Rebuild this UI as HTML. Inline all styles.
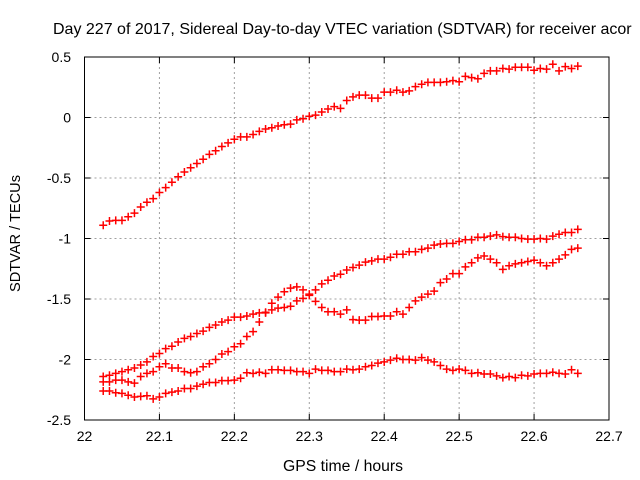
<!DOCTYPE html>
<html><head><meta charset="utf-8"><style>
html,body{margin:0;padding:0;background:#fff;}
svg{display:block;font-family:"Liberation Sans",sans-serif;}
</style></head><body>
<svg id="chart" width="640" height="480" viewBox="0 0 640 480">
<text x="53" y="34" font-size="16" fill="#000">Day 227 of 2017, Sidereal Day-to-day VTEC variation (SDTVAR) for receiver acor</text>
<text transform="translate(20,233.5) rotate(-90)" text-anchor="middle" font-size="15" textLength="117" lengthAdjust="spacingAndGlyphs">SDTVAR / TECUs</text>
<text x="343" y="471" text-anchor="middle" font-size="15.5" textLength="120" lengthAdjust="spacingAndGlyphs">GPS time / hours</text>
<g id="grid"></g><g id="ticks"></g><g id="series"></g>
<rect x="84.5" y="57" width="524.5" height="363" fill="none" stroke="#000" stroke-width="1"/>
</svg>
<script>
const xTicks=[22,22.1,22.2,22.3,22.4,22.5,22.6,22.7];
const xTickLabels=["22","22.1","22.2","22.3","22.4","22.5","22.6","22.7"];
const yTicks=[0.5,0,-0.5,-1,-1.5,-2,-2.5];
const yTickLabels=["0.5","0","-0.5","-1","-1.5","-2","-2.5"];
const tStart=22.025, tStep=1/120;
const seriesA=[-0.89,-0.855,-0.85,-0.85,-0.82,-0.79,-0.74,-0.70,-0.67,-0.62,-0.58,-0.535,-0.49,-0.45,-0.415,-0.38,-0.345,-0.305,-0.275,-0.24,-0.21,-0.18,-0.16,-0.16,-0.14,-0.115,-0.095,-0.085,-0.07,-0.06,-0.055,-0.02,-0.01,0.01,0.02,0.045,0.07,0.09,0.075,0.14,0.17,0.185,
0.185,0.16,0.16,0.21,0.21,0.225,0.21,0.22,0.255,0.275,0.29,0.29,0.29,0.295,0.305,0.295,0.34,0.33,0.32,0.365,0.385,0.385,0.405,0.40,0.415,0.415,0.415,0.39,0.405,0.40,0.44,0.385,0.42,0.405,0.425];
const seriesB=[-2.14,-2.13,-2.115,-2.10,-2.085,-2.07,-2.045,-2.02,-1.975,-1.95,-1.91,-1.89,-1.855,-1.825,-1.81,-1.785,-1.765,-1.735,-1.715,-1.69,-1.675,-1.65,-1.65,-1.64,-1.625,-1.615,-1.61,-1.59,-1.575,
-1.57,-1.56,-1.515,-1.495,-1.47,-1.425,-1.375,-1.345,-1.31,-1.295,-1.26,-1.24,-1.22,-1.195,-1.185,-1.17,-1.17,-1.155,-1.13,-1.13,-1.11,-1.11,-1.09,-1.08,-1.055,-1.045,-1.04,-1.04,-1.025,-1.01,-1.01,
-0.99,-0.99,-0.98,-0.97,-0.985,-0.99,-0.99,-1.0,-1.005,-1.005,-1.0,-1.005,-0.98,-0.965,-0.95,-0.95,-0.925];
const seriesC=[-2.185,-2.185,-2.17,-2.17,-2.185,-2.195,-2.14,-2.115,-2.10,-2.06,-2.035,-2.07,-2.07,-2.10,-2.11,-2.10,-2.06,-2.035,-2.0,-1.955,-1.935,-1.895,-1.87,-1.81,-1.77,-1.69,-1.615,-1.535,-1.485,
-1.44,-1.41,-1.40,-1.425,-1.46,-1.52,-1.57,-1.605,-1.605,-1.625,-1.59,-1.67,-1.675,-1.675,-1.645,-1.645,-1.64,-1.64,-1.605,-1.625,-1.57,-1.515,-1.485,-1.46,-1.435,-1.365,-1.335,-1.29,-1.29,-1.235,-1.20,
-1.16,-1.145,-1.17,-1.20,-1.255,-1.225,-1.21,-1.20,-1.19,-1.18,-1.20,-1.225,-1.20,-1.17,-1.135,-1.09,-1.08];
const seriesD=[-2.26,-2.26,-2.275,-2.28,-2.295,-2.31,-2.305,-2.30,-2.325,-2.31,-2.28,-2.27,-2.26,-2.24,-2.24,-2.22,-2.205,-2.19,-2.19,-2.175,-2.175,-2.17,-2.155,-2.11,-2.115,-2.105,-2.115,-2.085,-2.085,
-2.09,-2.09,-2.10,-2.10,-2.115,-2.08,-2.09,-2.09,-2.10,-2.10,-2.08,-2.085,-2.08,-2.06,-2.05,-2.03,-2.02,-2.005,-1.99,-2.0,-2.0,-2.005,-1.985,-2.005,-2.02,-2.05,-2.08,-2.09,-2.08,-2.09,-2.115,
-2.11,-2.12,-2.12,-2.135,-2.15,-2.14,-2.15,-2.13,-2.135,-2.12,-2.115,-2.115,-2.105,-2.115,-2.12,-2.085,-2.115];
const NS="http://www.w3.org/2000/svg";
const X0=84.5,X1=609,Y0=57,Y1=420;
function xs(v){return X0+(v-22)/(22.7-22)*(X1-X0);}
function ys(v){return Y0+(0.5-v)/3*(Y1-Y0);}
function mk(tag,attrs,parent){const e=document.createElementNS(NS,tag);for(const k in attrs)e.setAttribute(k,attrs[k]);parent.appendChild(e);return e;}
const grid=document.getElementById('grid'),ticks=document.getElementById('ticks'),ser=document.getElementById('series');
xTicks.forEach((t,i)=>{const x=xs(t);
 if(i>0&&i<xTicks.length-1){const g=mk('line',{x1:x,x2:x,y1:Y0,y2:Y1,stroke:'#a0a0a0','stroke-dasharray':'2,3'},grid);
 
 }
 mk('line',{x1:x,x2:x,y1:Y1,y2:Y1-6,stroke:'#000'},ticks);
 mk('line',{x1:x,x2:x,y1:Y0,y2:Y0+6,stroke:'#000'},ticks);
 const l=mk('text',{x:x,y:441,'text-anchor':'middle','font-size':14},ticks);l.textContent=xTickLabels[i];
 
 });
yTicks.forEach((t,i)=>{const y=ys(t);
 if(i>0&&i<yTicks.length-1){const g=mk('line',{x1:X0,x2:X1,y1:y,y2:y,stroke:'#a0a0a0','stroke-dasharray':'2,3'},grid);
 
 }
 mk('line',{x1:X0,x2:X0+6,y1:y,y2:y,stroke:'#000'},ticks);
 mk('line',{x1:X1,x2:X1-6,y1:y,y2:y,stroke:'#000'},ticks);
 const l=mk('text',{x:71,y:y+5,'text-anchor':'end','font-size':14},ticks);l.textContent=yTickLabels[i];
 
 });
[seriesA,seriesB,seriesC,seriesD].forEach((arr,si)=>{
 const g=mk('g',{},ser);
 
 
 arr.forEach((v,i)=>{const x=xs(tStart+i*tStep),y=ys(v);
  const p=mk('path',{d:`M${x-4} ${y}H${x+4}M${x} ${y-4}V${y+4}`,stroke:'#f00','stroke-width':1.5,fill:'none'},g);
  
  });});
</script>
</body></html>
